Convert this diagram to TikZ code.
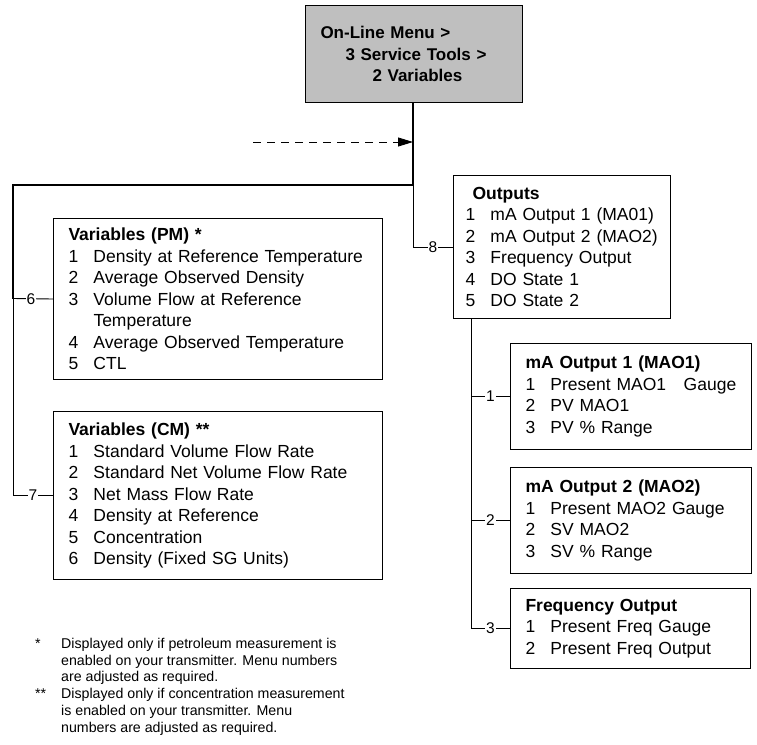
\documentclass[tikz,border=0pt]{standalone}
\usepackage{fontspec}
\setmainfont{Liberation Sans}
\usetikzlibrary{arrows.meta}

\newcommand{\itm}[2]{\makebox[25pt][l]{#1}#2}

\begin{document}
\begin{tikzpicture}[
    x=1pt, y=-1pt,
    >={Triangle[length=15pt, width=9pt]},
    menubox/.style={
      draw, line width=1pt, fill=black!25, anchor=north west, align=left,
      inner xsep=15pt, inner ysep=0pt, text width=187pt, minimum height=97pt,
      font=\fontsize{17}{21.5}\selectfont\bfseries
    },
    listbox/.style={
      draw, line width=1pt, anchor=north west, align=left,
      inner xsep=15pt, inner ysep=0pt,
      font=\fontsize{17.5}{21.5}\selectfont
    },
    trunk/.style={line width=1.6pt},
    branch/.style={line width=0.9pt},
    numlabel/.style={fill=white, inner sep=1pt, font=\fontsize{15.5}{15.5}\selectfont}
]
    \useasboundingbox (0,0) rectangle (757,744);

    % Menu path
    \node[menubox] (Menu) at (305,5) {On-Line Menu >\\
      \hspace*{25pt}3 Service Tools >\\
      \hspace*{52pt}2 Variables};

    % Variable lists
    \node[listbox, text width=299pt, minimum height=161pt] (PM) at (53,218) {%
      \textbf{Variables (PM) *}\\
      \itm{1}{Density at Reference Temperature}\\
      \itm{2}{Average Observed Density}\\
      \itm{3}{Volume Flow at Reference}\\
      \hspace*{25pt}Temperature\\
      \itm{4}{Average Observed Temperature}\\
      \itm{5}{CTL}};
    \node[listbox, text width=299pt, minimum height=168pt] (CM) at (53,411) {%
      \textbf{Variables (CM) **}\\
      \itm{1}{Standard Volume Flow Rate}\\
      \itm{2}{Standard Net Volume Flow Rate}\\
      \itm{3}{Net Mass Flow Rate}\\
      \itm{4}{Density at Reference}\\
      \itm{5}{Concentration}\\
      \itm{6}{Density (Fixed SG Units)}};

    % Outputs and sub-menus
    \node[listbox, inner xsep=12pt, text width=193pt, minimum height=143pt] (Outputs) at (453,175) {%
      \hspace*{7pt}\textbf{Outputs}\\
      \itm{1}{mA Output 1 (MA01)}\\
      \itm{2}{mA Output 2 (MAO2)}\\
      \itm{3}{Frequency Output}\\
      \itm{4}{DO State 1}\\
      \itm{5}{DO State 2}};
    \node[listbox, text width=211pt, minimum height=106pt] (MAOne) at (510,343) {%
      \textbf{mA Output 1 (MAO1)}\\
      \itm{1}{Present MAO1\ \ \ Gauge}\\
      \itm{2}{PV MAO1}\\
      \itm{3}{PV \% Range}};
    \node[listbox, text width=211pt, minimum height=106pt] (MAOTwo) at (510,467) {%
      \textbf{mA Output 2 (MAO2)}\\
      \itm{1}{Present MAO2 Gauge}\\
      \itm{2}{SV MAO2}\\
      \itm{3}{SV \% Range}};
    \node[listbox, text width=210pt, minimum height=80pt] (Freq) at (510,588) {%
      \textbf{Frequency Output}\\
      \itm{1}{Present Freq Gauge}\\
      \itm{2}{Present Freq Output}};

    % Footnotes
    \node[anchor=north west, align=left, inner sep=0pt,
      font=\fontsize{14.2}{16.7}\selectfont] (Notes) at (35,638) {%
      \makebox[26pt][l]{*}Displayed only if petroleum measurement is\\
      \hspace*{26pt}enabled on your transmitter. Menu numbers\\
      \hspace*{26pt}are adjusted as required.\\
      \makebox[26pt][l]{**}Displayed only if concentration measurement\\
      \hspace*{26pt}is enabled on your transmitter. Menu\\
      \hspace*{26pt}numbers are adjusted as required.};

    % Junctions
    \coordinate (Split) at (413,185);
    \coordinate (LeftTop) at (13,185);
    \coordinate (LeftSix) at (13,298.5);
    \coordinate (DashStart) at (253,142);
    \coordinate (DashEnd) at (413,142);
    \coordinate (OutDrop) at (471,318);

    % Connectors
    \draw[trunk] (Menu.south -| Split) -- (Split) -- (LeftTop) -- (LeftSix);
    \draw[branch] (LeftSix) -- (LeftTop |- CM.west)
      -- node[numlabel] {7} (CM.west);
    \draw[branch] (LeftSix) -- node[numlabel, pos=0.45] {6} (PM.west);
    \draw[branch] (Split) -- (Split |- Outputs.west)
      -- node[numlabel] {8} (Outputs.west);
    \draw[->, line width=0.9pt, dash pattern=on 8pt off 6pt] (DashStart) -- (DashEnd);
    \draw[branch] (OutDrop) -- (OutDrop |- Freq.west)
      -- node[numlabel] {3} (Freq.west);
    \draw[branch] (OutDrop |- MAOne.west) -- node[numlabel] {1} (MAOne.west);
    \draw[branch] (OutDrop |- MAOTwo.west) -- node[numlabel] {2} (MAOTwo.west);
\end{tikzpicture}
\end{document}
